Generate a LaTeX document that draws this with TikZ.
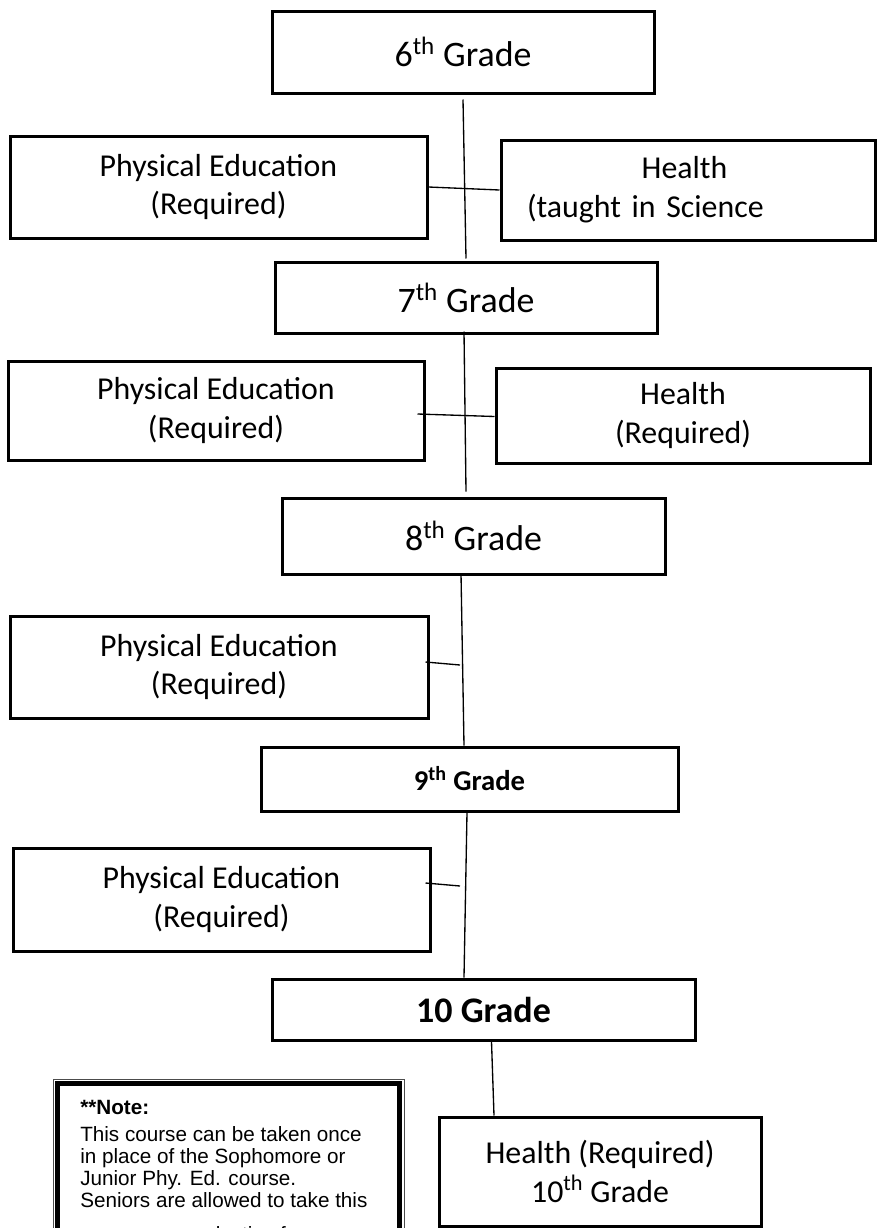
\documentclass[tikz,border=0pt]{standalone}
\usepackage{fontspec}
\setmainfont{Carlito}
\newfontfamily\arialfont{Liberation Sans}
\usetikzlibrary{calc}
\begin{document}
\begin{tikzpicture}[x=0.75pt,y=-0.75pt,
  box/.style={draw, line width=2.25pt, line join=miter, inner sep=0pt, align=center},
  sz/.style 2 args={minimum width=#1*0.75pt, minimum height=#2*0.75pt},
  gradefont/.style={font=\fontsize{26.9pt}{32.8pt}\selectfont},
  subjfont/.style={font=\fontsize{23.9pt}{29pt}\selectfont},
  conn/.style={line width=1pt}]
\useasboundingbox (0,0) rectangle (879,1228);
\fill[white] (0,0) rectangle (879,1228);

% grade boxes
\node[box, sz={382}{82}, gradefont] (g6) at (463,52) {6\textsuperscript{th} Grade};
\node[box, sz={382}{71}, gradefont] (g7) at (466,297.5) {7\textsuperscript{th} Grade};
\node[box, sz={383}{76}, gradefont] (g8) at (473.5,536) {8\textsuperscript{th} Grade};
\node[box, sz={417}{64}, font=\fontsize{21.5pt}{26pt}\selectfont\bfseries] (g9) at (469.5,779) {9\textsuperscript{th} Grade};
\node[box, sz={423}{61}, font=\fontsize{27pt}{33pt}\selectfont\bfseries] (g10) at (483.5,1009.5) {10 Grade};

% subject boxes
\node[box, sz={417}{102}, subjfont] (pe1) at (218.5,187) {Physical Education\\(Required)};
\node[box, sz={374}{100}, subjfont, text width=241.5pt, align=left] (h1) at (688,190) {\hspace*{86pt}Health\\\mbox{(taught in Science}};
\node[box, sz={416}{99}, subjfont] (pe2) at (216,410.5) {Physical Education\\(Required)};
\node[box, sz={374}{95}, subjfont] (h2) at (683,415.5) {Health\\(Required)};
\node[box, sz={418}{102}, subjfont] (pe3) at (219,667) {Physical Education\\(Required)};
\node[box, sz={417}{103}, subjfont] (pe4) at (221.5,899.5) {Physical Education\\(Required)};
\node[box, sz={322}{109}, subjfont] (h10) at (600,1171.5) {Health (Required)\\10\textsuperscript{th} Grade};

% note box (double border, runs past the bottom edge)
\draw[line width=0.7pt, draw=black!70] (53,1079) rectangle (404,1300);
\draw[line width=3.5pt, line join=miter] (57.5,1083.5) rectangle (399.5,1300);
\node[anchor=north west, inner sep=0pt, align=left,
      font=\arialfont\fontsize{15.5pt}{16.5pt}\selectfont] (note) at (80,1100)
  {\textbf{**Note:}\\[3.5pt]This course can be taken once\\in place of the Sophomore or\\Junior Phy. Ed. course.\\Seniors are allowed to take this\\[9pt]course as an elective for};

% junction points on the spine
\coordinate (j3) at (460,665);
\coordinate (j4) at (460,886);

% spine connectors
\draw[conn] ($(g6.south)+(0,5)$) -- ($(g7.north)+(0,-2)$);
\draw[conn] ($(g7.south)+(-2,-3)$) -- ($(g8.north)+(-7.5,-5)$);
\draw[conn] ($(g8.south)+(-12.5,-2)$) -- ($(g9.north)+(-5.5,0)$);
\draw[conn] ($(g9.south)+(-2.5,0)$) -- ($(g10.north)+(-19.5,0)$);
\draw[conn] ($(g10.south)+(8,0)$) -- ($(h10.north)+(-106,0)$);

% side connectors
\draw[conn] (pe1.east) -- (h1.west);
\draw[conn] ($(pe2.east)+(-8,3.5)$) -- ($(h2.west)+(0,1)$);
\draw[conn] ($(pe3.east)+(-4,-5)$) -- (j3);
\draw[conn] ($(pe4.east)+(-6,-16.5)$) -- (j4);
\end{tikzpicture}
\end{document}
